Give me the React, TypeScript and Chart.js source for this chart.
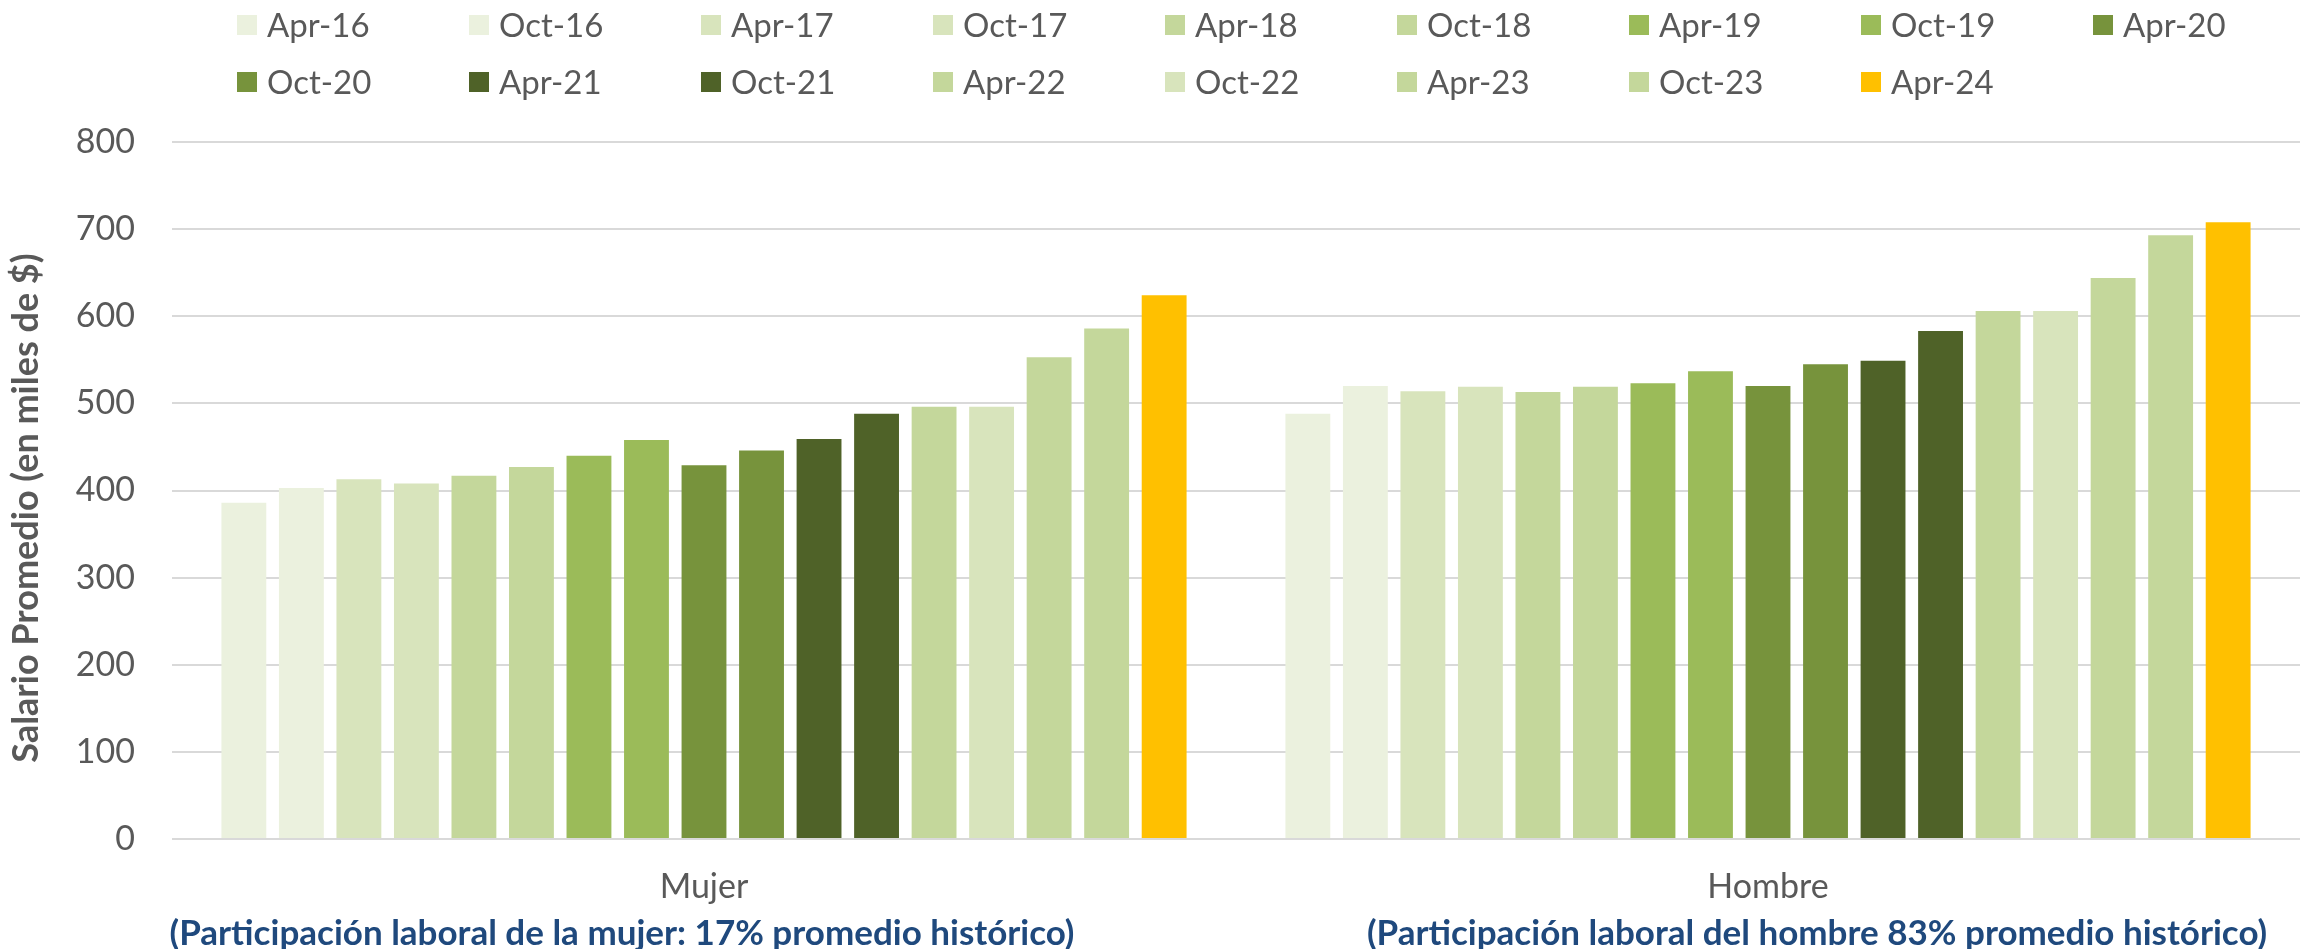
import React, { useEffect, useRef } from "react";
import { Chart, registerables } from "chart.js";

Chart.register(...registerables);

const categories = ["Mujer", "Hombre"];
const subtitles = [
  "(Participación laboral de la mujer: 17% promedio histórico)",
  "(Participación laboral del hombre 83% promedio histórico)",
];
const periods = [
  "Apr-16", "Oct-16", "Apr-17", "Oct-17", "Apr-18", "Oct-18", "Apr-19", "Oct-19", "Apr-20",
  "Oct-20", "Apr-21", "Oct-21", "Apr-22", "Oct-22", "Apr-23", "Oct-23", "Apr-24",
];
const mujerValues = [386, 403, 413, 408, 417, 427, 440, 458, 429, 446, 459, 488, 496, 496, 553, 586, 624];
const hombreValues = [488, 520, 514, 519, 513, 519, 523, 537, 520, 545, 549, 583, 606, 606, 644, 693, 708];
const periodColors = [
  "#EBF1DE", "#EBF1DE", "#D8E4BC", "#D8E4BC", "#C4D79B", "#C4D79B", "#9BBB59", "#9BBB59", "#77933C",
  "#77933C", "#4F6228", "#4F6228", "#C4D79B", "#D8E4BC", "#C4D79B", "#C4D79B", "#FFC000",
];
const yTicks = [0, 100, 200, 300, 400, 500, 600, 700, 800];
const yTitle = "Salario Promedio (en miles de $)";

const FONT = "Lato, 'Open Sans', sans-serif";
const GRAY = "#595959";

const legendPlugin = {
  id: "gridLegend",
  afterDraw(chart: any) {
    const ctx = chart.ctx;
    ctx.save();
    ctx.font = `33px ${FONT}`;
    ctx.textBaseline = "middle";
    ctx.textAlign = "left";
    chart.data.datasets.forEach((ds: any, i: number) => {
      const row = Math.floor(i / 9);
      const col = i % 9;
      const x = 237 + col * 232;
      const y = 25 + row * 57;
      ctx.fillStyle = ds.backgroundColor;
      ctx.fillRect(x, y - 10, 20, 20);
      ctx.fillStyle = GRAY;
      ctx.fillText(ds.label, x + 30, y + 1);
    });
    ctx.restore();
  },
};

const annotationPlugin = {
  id: "extraText",
  afterDraw(chart: any) {
    const ctx = chart.ctx;
    const xs = chart.scales.x;
    ctx.save();
    // y axis title
    ctx.translate(26, 508);
    ctx.rotate(-Math.PI / 2);
    ctx.font = `bold 36px ${FONT}`;
    ctx.fillStyle = GRAY;
    ctx.textAlign = "center";
    ctx.textBaseline = "middle";
    ctx.fillText(yTitle, 0, 0);
    ctx.restore();

    ctx.save();
    ctx.font = `bold 35px ${FONT}`;
    ctx.fillStyle = "#1F497D";
    ctx.textAlign = "center";
    ctx.textBaseline = "middle";
    const offsets = [-82, 49];
    subtitles.forEach((t, i) => {
      ctx.fillText(t, xs.getPixelForValue(i) + offsets[i], 934);
    });
    ctx.restore();
  },
};

export default function App() {
  const ref = useRef<HTMLCanvasElement | null>(null);
  useEffect(() => {
    if (!ref.current) return;
    const chart = new Chart(ref.current, {
      type: "bar",
      data: {
        labels: categories,
        datasets: periods.map((p, i) => ({
          label: p,
          data: [mujerValues[i], hombreValues[i]],
          backgroundColor: periodColors[i],
          borderWidth: 0,
          categoryPercentage: 0.919,
          barPercentage: 0.78,
        })),
      },
      options: {
        responsive: false,
        animation: false,
        layout: { padding: { top: 142, left: 0, right: 5, bottom: 0 } },
        plugins: {
          legend: { display: false },
          tooltip: { enabled: false },
          title: { display: false },
        },
        scales: {
          x: {
            grid: { display: false, drawTicks: false },
            border: { display: false },
            ticks: { font: { family: FONT, size: 34 }, color: GRAY, padding: 28 },
            afterFit: (s: any) => {
              s.height = 110;
            },
          },
          y: {
            min: 0,
            max: 800,
            afterBuildTicks: (s: any) => {
              s.ticks = yTicks.map((v) => ({ value: v }));
            },
            grid: { color: "#D9D9D9", lineWidth: 2, drawTicks: false },
            border: { display: false },
            ticks: { font: { family: FONT, size: 34 }, color: GRAY, padding: 37 },
            afterFit: (s: any) => {
              s.width = 172;
            },
          },
        },
      },
      plugins: [legendPlugin, annotationPlugin],
    });
    return () => chart.destroy();
  }, []);
  return (
    <div style={{ position: "fixed", left: 0, top: 0, width: 2305, height: 949, background: "#fff" }}>
      <canvas ref={ref} width={2305} height={949} style={{ display: "block" }} />
    </div>
  );
}
